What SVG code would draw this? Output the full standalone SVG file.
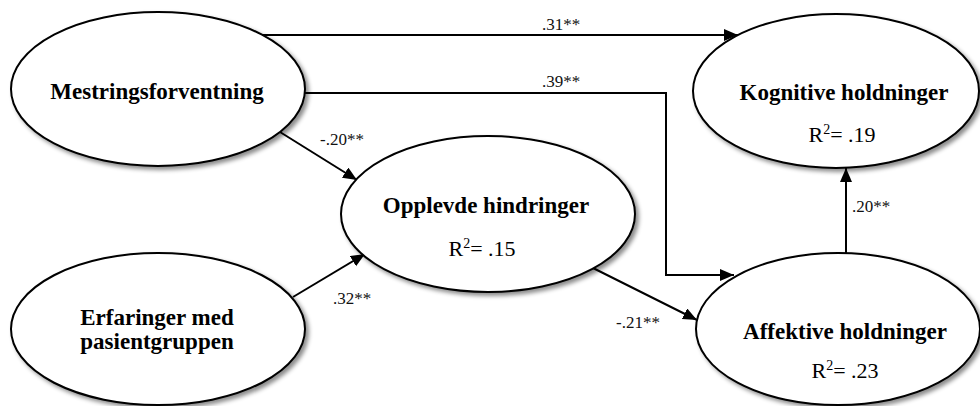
<svg xmlns="http://www.w3.org/2000/svg" width="980" height="406" viewBox="0 0 980 406" font-family="'Liberation Serif', 'DejaVu Serif', serif">
  <defs>
    <filter id="shadow" x="-10%" y="-10%" width="125%" height="130%">
      <feDropShadow dx="3" dy="3" stdDeviation="2.2" flood-color="#000" flood-opacity="0.45"/>
    </filter>
    <marker id="arrow" markerUnits="userSpaceOnUse" markerWidth="16" markerHeight="14" refX="14" refY="6" orient="auto">
      <path d="M0,0 L14,6 L0,12 Z" fill="#000"/>
    </marker>
    <style>
      .node ellipse { fill: #fff; stroke: #000; stroke-width: 2; filter: url(#shadow); }
      text { font-family: 'Liberation Serif', 'DejaVu Serif', serif; }
      .title { font-weight: bold; font-size: 23px; text-anchor: middle; fill: #000; }
      .r2 { font-size: 22px; text-anchor: middle; fill: #000; }
      .sup { font-size: 14px; }
      .edge { fill: none; stroke: #000; stroke-width: 2; marker-end: url(#arrow); }
      .coef { font-size: 17px; fill: #111; }
    </style>
  </defs>
  <rect width="980" height="406" fill="#fff"/>

  <!-- paths between constructs -->
  <g id="connectors">
    <path class="edge" d="M263 35 H738"/>
    <path class="edge" d="M305 93 H666 V275 H734"/>
    <path class="edge" d="M280 132 L357 180"/>
    <path class="edge" d="M293 297 L365 254"/>
    <path class="edge" d="M593 268 L697 320"/>
    <path class="edge" d="M846 253 V168"/>
    <text class="coef" x="542" y="30">.31**</text>
    <text class="coef" x="542" y="87">.39**</text>
    <text class="coef" x="320" y="145">-.20**</text>
    <text class="coef" x="333" y="304">.32**</text>
    <text class="coef" x="616" y="328">-.21**</text>
    <text class="coef" x="852" y="212">.20**</text>
  </g>

  <g id="mestringsforventning" class="node">
    <ellipse cx="158" cy="89" rx="147" ry="77"/>
    <text class="title" x="157" y="99">Mestringsforventning</text>
  </g>

  <g id="erfaringer" class="node">
    <ellipse cx="158" cy="329" rx="147" ry="76"/>
    <text class="title" x="157" y="325">Erfaringer med</text>
    <text class="title" x="157" y="349">pasientgruppen</text>
  </g>

  <g id="opplevde-hindringer" class="node">
    <ellipse cx="488" cy="214" rx="147" ry="78"/>
    <text class="title" x="486" y="213">Opplevde hindringer</text>
    <text class="r2" x="482" y="256">R<tspan class="sup" dy="-8">2</tspan><tspan dy="8">= .15</tspan></text>
  </g>

  <g id="kognitive-holdninger" class="node">
    <ellipse cx="836" cy="91" rx="143" ry="77"/>
    <text class="title" x="844" y="100">Kognitive holdninger</text>
    <text class="r2" x="842" y="142">R<tspan class="sup" dy="-8">2</tspan><tspan dy="8">= .19</tspan></text>
  </g>

  <g id="affektive-holdninger" class="node">
    <ellipse cx="838" cy="329" rx="142" ry="76"/>
    <text class="title" x="845" y="339">Affektive holdninger</text>
    <text class="r2" x="845" y="378">R<tspan class="sup" dy="-8">2</tspan><tspan dy="8">= .23</tspan></text>
  </g>
</svg>
